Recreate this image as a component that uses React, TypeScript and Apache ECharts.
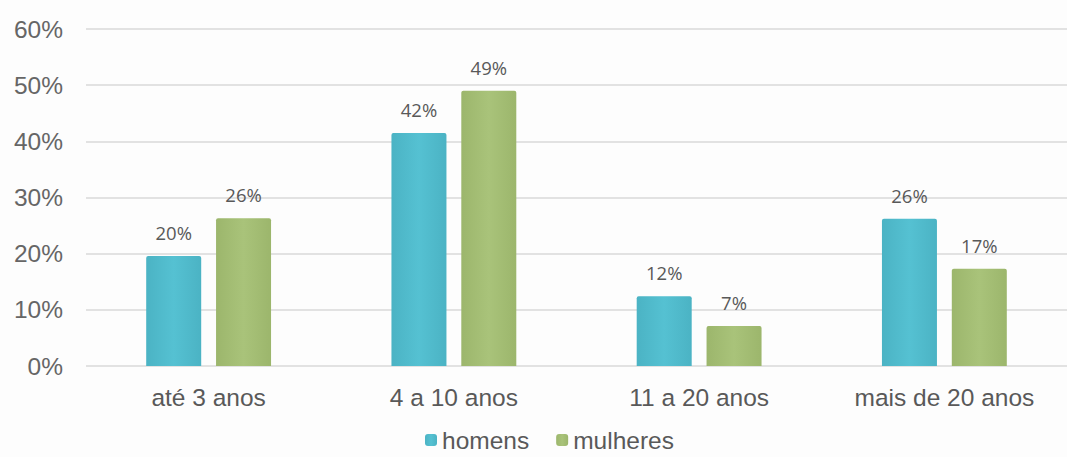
import React, { useEffect, useRef } from "react";
import * as echarts from "echarts";

const categories = ["até 3 anos", "4 a 10 anos", "11 a 20 anos", "mais de 20 anos"];
const homens = [19.6, 41.5, 12.4, 26.2];
const mulheres = [26.3, 49.0, 7.1, 17.3];
const labelsHomens = ["20%", "42%", "12%", "26%"];
const labelsMulheres = ["26%", "49%", "7%", "17%"];

export default function App() {
  const ref = useRef<HTMLDivElement>(null);
  useEffect(() => {
    if (!ref.current) return;
    const chart = echarts.init(ref.current, null, { renderer: "svg" });
    const font = "Liberation Sans, Arial, sans-serif";
    chart.setOption({
      animation: false,
      backgroundColor: "#fdfdfd",
      grid: { left: 86, right: -4, top: 29, bottom: 91 },
      legend: {
        top: 424,
        left: 420,
        padding: [3, 5, 3, 5],
        icon: "roundRect",
        itemWidth: 12,
        itemHeight: 12,
        itemGap: 27,
        textStyle: { fontSize: 24.5, lineHeight: 26, color: "#595959", fontFamily: font },
        data: ["homens", "mulheres"],
      },
      xAxis: {
        type: "category",
        data: categories,
        axisLine: { show: false },
        axisTick: { show: false },
        axisLabel: { fontSize: 24.5, color: "#595959", fontFamily: font, margin: 19 },
      },
      yAxis: {
        type: "value",
        min: 0,
        max: 60,
        interval: 10,
        axisLabel: { formatter: "{value}%", fontSize: 24.5, color: "#666666", fontFamily: font, margin: 23 },
        splitLine: { lineStyle: { color: "#d9d9d9", width: 1.5 } },
        axisLine: { show: false },
        axisTick: { show: false },
      },
      series: [
        {
          name: "homens",
          type: "bar",
          data: homens,
          barWidth: 55,
          barGap: "27%",
          itemStyle: {
            color: new echarts.graphic.LinearGradient(0, 0, 1, 0, [
              { offset: 0, color: "#4bb3c4" },
              { offset: 0.5, color: "#55c1d2" },
              { offset: 1, color: "#4bb3c4" },
            ]),
            borderRadius: [2, 2, 0, 0],
          },
          label: {
            show: true,
            position: "top",
            distance: 14,
            fontSize: 18.5,
            color: "#595959",
            fontFamily: "Open Sans, sans-serif",
            formatter: (p: any) => labelsHomens[p.dataIndex],
          },
        },
        {
          name: "mulheres",
          type: "bar",
          data: mulheres,
          barWidth: 55,
          itemStyle: {
            color: new echarts.graphic.LinearGradient(0, 0, 1, 0, [
              { offset: 0, color: "#9cb66c" },
              { offset: 0.5, color: "#a9c37a" },
              { offset: 1, color: "#9cb66c" },
            ]),
            borderRadius: [2, 2, 0, 0],
          },
          label: {
            show: true,
            position: "top",
            distance: 14,
            fontSize: 18.5,
            color: "#595959",
            fontFamily: "Open Sans, sans-serif",
            formatter: (p: any) => labelsMulheres[p.dataIndex],
          },
        },
      ],
      color: ["#4fbacb", "#a3bd72"],
    });
    return () => chart.dispose();
  }, []);
  return <div ref={ref} style={{ position: "fixed", left: 0, top: 0, width: 1067, height: 457 }} />;
}
